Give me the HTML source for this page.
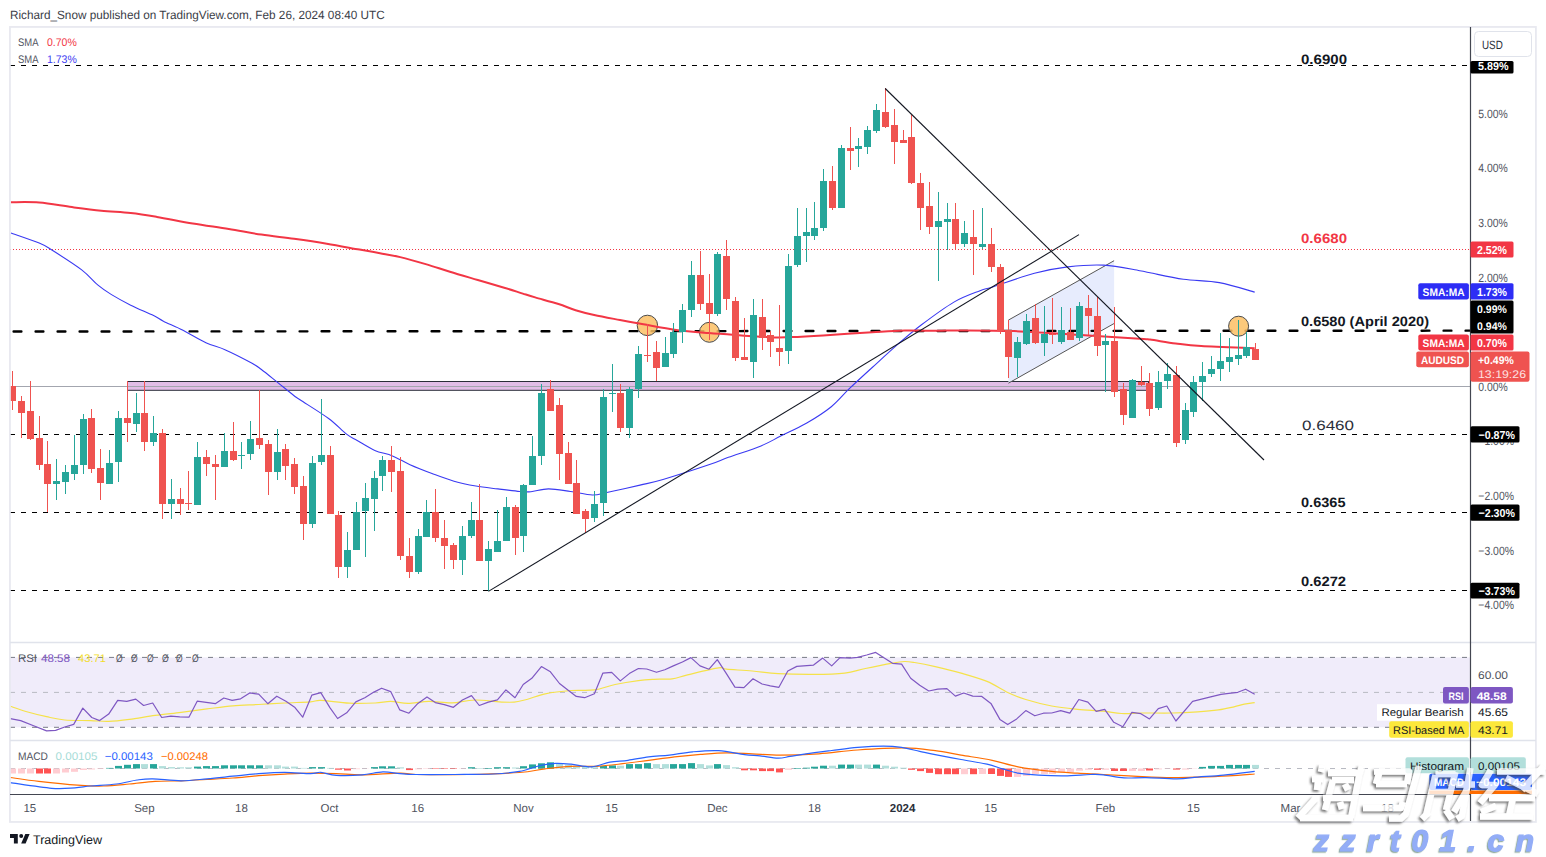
<!DOCTYPE html><html><head><meta charset="utf-8"><style>html,body{margin:0;padding:0;background:#fff;overflow:hidden}svg{display:block}text{font-family:"Liberation Sans",sans-serif;text-rendering:geometricPrecision}</style></head><body>
<svg width="1546" height="857" viewBox="0 0 1546 857">
<defs><clipPath id="cm"><rect x="10" y="27" width="1460" height="615"/></clipPath><clipPath id="cr"><rect x="10" y="643" width="1460" height="97"/></clipPath><clipPath id="cd"><rect x="10" y="741" width="1460" height="53"/></clipPath></defs>
<rect width="1546" height="857" fill="#fff"/>
<text id="tx0" transform="translate(10,19) scale(0.9791,1)" x="0" y="0" font-size="12" fill="#3a3d47" font-weight="normal" text-anchor="start">Richard_Snow published on TradingView.com, Feb 26, 2024 08:40 UTC</text>
<g clip-path="url(#cm)">
<rect x="127.5" y="381.5" width="1021" height="8.8" fill="#e1bee7" stroke="#2a2e39" stroke-width="1"/>
<polygon points="1008.4,320.1 1114.1,260.7 1114.1,323.5 1008.4,383.2" fill="#e3e9fd" fill-opacity="0.85"/>
<line x1="1008.4" y1="320.1" x2="1114.1" y2="260.7" stroke="#555" stroke-width="1"/>
<line x1="1008.4" y1="383.2" x2="1114.1" y2="323.5" stroke="#555" stroke-width="1"/>
<line x1="10" y1="386.5" x2="1470" y2="386.5" stroke="#a3a6af" stroke-width="1"/>
<line x1="10" y1="65.5" x2="1470" y2="65.5" stroke="#000" stroke-width="1.2" stroke-dasharray="5 6"/>
<line x1="10" y1="434.5" x2="1470" y2="434.5" stroke="#000" stroke-width="1.2" stroke-dasharray="5 6"/>
<line x1="10" y1="512.5" x2="1470" y2="512.5" stroke="#000" stroke-width="1.2" stroke-dasharray="5 6"/>
<line x1="10" y1="590.5" x2="1470" y2="590.5" stroke="#000" stroke-width="1.2" stroke-dasharray="5 6"/>
<line x1="10" y1="249.5" x2="1470" y2="249.5" stroke="#f23645" stroke-width="1" stroke-dasharray="1 2"/>
<line x1="13.6" y1="331.5" x2="1470" y2="330.65" stroke="#000" stroke-width="2.4" stroke-linecap="round" stroke-dasharray="7.8 14.2"/>
<circle cx="647.4" cy="325.4" r="10.2" fill="#fbbf64" fill-opacity="0.85" stroke="#4a4a4a" stroke-width="1"/>
<circle cx="709.4" cy="332.3" r="10.0" fill="#fbbf64" fill-opacity="0.85" stroke="#4a4a4a" stroke-width="1"/>
<circle cx="1238.6" cy="326.2" r="10.0" fill="#fbbf64" fill-opacity="0.85" stroke="#4a4a4a" stroke-width="1"/>
<path d="M10.80,232.90 C15.53,234.60 32.28,240.20 39.20,243.10 C46.12,246.00 45.22,245.83 52.30,250.30 C59.38,254.77 74.08,264.08 81.70,269.90 C89.32,275.72 93.10,281.12 98.00,285.20 C102.90,289.28 105.65,291.07 111.10,294.40 C116.55,297.73 123.62,301.67 130.70,305.20 C137.78,308.73 148.15,312.93 153.60,315.60 C159.05,318.27 158.50,318.75 163.40,321.20 C168.30,323.65 175.92,326.72 183.00,330.30 C190.08,333.88 198.82,339.43 205.90,342.70 C212.98,345.97 217.88,346.52 225.50,349.90 C233.12,353.28 245.62,359.73 251.60,363.00 C257.58,366.27 257.03,366.23 261.40,369.50 C265.77,372.77 272.35,378.23 277.80,382.60 C283.25,386.97 290.40,392.83 294.10,395.70 C297.80,398.57 294.25,396.00 300.00,399.80 C305.75,403.60 320.90,412.82 328.60,418.50 C336.30,424.18 341.43,430.23 346.20,433.90 C350.97,437.57 352.43,437.75 357.20,440.50 C361.97,443.25 368.93,447.83 374.80,450.40 C380.67,452.97 386.53,453.52 392.40,455.90 C398.27,458.28 403.40,461.77 410.00,464.70 C416.60,467.63 424.67,470.75 432.00,473.50 C439.33,476.25 446.68,479.12 454.00,481.20 C461.32,483.28 468.58,484.72 475.90,486.00 C483.22,487.28 490.57,487.98 497.90,488.90 C505.23,489.82 514.40,491.03 519.90,491.50 C525.40,491.97 526.13,492.13 530.90,491.70 C535.67,491.27 541.90,488.93 548.50,488.90 C555.10,488.87 563.17,490.48 570.50,491.50 C577.83,492.52 586.27,494.88 592.50,495.00 C598.73,495.12 599.98,493.85 607.90,492.20 C615.82,490.55 630.82,487.22 640.00,485.10 C649.18,482.98 651.53,482.88 663.00,479.50 C674.47,476.12 697.90,468.50 708.80,464.80 C719.70,461.10 719.70,460.45 728.40,457.30 C737.10,454.15 752.28,449.43 761.00,445.90 C769.72,442.37 773.07,439.92 780.70,436.10 C788.33,432.28 798.37,427.90 806.80,423.00 C815.23,418.10 824.22,412.42 831.30,406.70 C838.38,400.98 842.48,395.23 849.30,388.70 C856.12,382.17 864.03,374.97 872.20,367.50 C880.37,360.03 890.13,350.98 898.30,343.90 C906.47,336.82 911.93,331.97 921.20,325.00 C930.47,318.03 944.10,307.82 953.90,302.10 C963.70,296.38 973.42,293.27 980.00,290.70 C986.58,288.13 984.33,289.60 993.40,286.70 C1002.47,283.80 1022.00,276.60 1034.40,273.30 C1046.80,270.00 1056.23,268.27 1067.80,266.90 C1079.37,265.53 1091.82,264.47 1103.80,265.10 C1115.78,265.73 1132.00,269.42 1139.70,270.70 C1147.40,271.98 1142.72,271.37 1150.00,272.80 C1157.28,274.23 1171.85,277.67 1183.40,279.30 C1194.95,280.93 1207.42,280.47 1219.30,282.60 C1231.18,284.73 1248.80,290.52 1254.70,292.10" fill="none" stroke="#3a3af2" stroke-width="1.1" stroke-linejoin="round"/>
<path d="M10.80,202.20 C15.53,202.25 29.02,201.68 39.20,202.50 C49.38,203.32 61.55,205.73 71.90,207.10 C82.25,208.47 91.50,209.72 101.30,210.70 C111.10,211.68 121.43,211.97 130.70,213.00 C139.97,214.03 146.55,215.15 156.90,216.90 C167.25,218.65 180.82,221.48 192.80,223.50 C204.78,225.52 217.37,227.15 228.80,229.00 C240.23,230.85 250.52,232.97 261.40,234.60 C272.28,236.23 283.20,237.28 294.10,238.80 C305.00,240.32 315.90,241.90 326.80,243.70 C337.70,245.50 350.63,248.02 359.50,249.60 C368.37,251.18 373.22,251.95 380.00,253.20 C386.78,254.45 392.43,255.23 400.20,257.10 C407.97,258.97 418.32,261.95 426.60,264.40 C434.88,266.85 441.37,269.20 449.90,271.80 C458.43,274.40 468.75,277.35 477.80,280.00 C486.85,282.65 496.70,285.43 504.20,287.70 C511.70,289.97 517.63,291.98 522.80,293.60 C527.97,295.22 529.25,295.67 535.20,297.40 C541.15,299.13 551.77,301.87 558.50,304.00 C565.23,306.13 569.65,308.37 575.60,310.20 C581.55,312.03 586.80,313.37 594.20,315.00 C601.60,316.63 611.80,318.45 620.00,320.00 C628.20,321.55 634.05,322.65 643.40,324.30 C652.75,325.95 665.20,328.43 676.10,329.90 C687.00,331.37 697.92,332.18 708.80,333.10 C719.68,334.02 730.52,334.68 741.40,335.40 C752.28,336.12 765.92,337.12 774.10,337.40 C782.28,337.68 782.33,337.43 790.50,337.10 C798.67,336.77 809.48,336.22 823.10,335.40 C836.72,334.58 858.58,333.02 872.20,332.20 C885.82,331.38 893.92,330.73 904.80,330.50 C915.68,330.27 928.30,330.82 937.50,330.80 C946.70,330.78 947.27,330.35 960.00,330.40 C972.73,330.45 992.50,330.25 1013.90,331.10 C1035.30,331.95 1067.43,334.22 1088.40,335.50 C1109.37,336.78 1129.43,338.12 1139.70,338.80 C1149.97,339.48 1144.00,338.83 1150.00,339.60 C1156.00,340.37 1167.15,342.33 1175.70,343.40 C1184.25,344.47 1188.13,345.20 1201.30,346.00 C1214.47,346.80 1245.80,347.83 1254.70,348.20" fill="none" stroke="#f23645" stroke-width="2" stroke-linejoin="round"/>
<rect x="12" y="371" width="1" height="39" fill="#ef5350"/>
<rect x="9" y="386" width="7" height="15" fill="#ef5350"/>
<rect x="21" y="396" width="1" height="42" fill="#ef5350"/>
<rect x="18" y="401" width="7" height="12" fill="#ef5350"/>
<rect x="30" y="381" width="1" height="59" fill="#ef5350"/>
<rect x="27" y="411" width="7" height="28" fill="#ef5350"/>
<rect x="39" y="416" width="1" height="54" fill="#ef5350"/>
<rect x="36" y="438" width="7" height="27" fill="#ef5350"/>
<rect x="47" y="441" width="1" height="71" fill="#ef5350"/>
<rect x="44" y="464" width="7" height="20" fill="#ef5350"/>
<rect x="56" y="459" width="1" height="41" fill="#26a69a"/>
<rect x="53" y="481" width="7" height="3" fill="#26a69a"/>
<rect x="65" y="465" width="1" height="29" fill="#26a69a"/>
<rect x="62" y="472" width="7" height="10" fill="#26a69a"/>
<rect x="74" y="435" width="1" height="45" fill="#26a69a"/>
<rect x="71" y="465" width="7" height="9" fill="#26a69a"/>
<rect x="83" y="414" width="1" height="60" fill="#26a69a"/>
<rect x="80" y="419" width="7" height="46" fill="#26a69a"/>
<rect x="91" y="409" width="1" height="64" fill="#ef5350"/>
<rect x="88" y="418" width="7" height="51" fill="#ef5350"/>
<rect x="100" y="449" width="1" height="51" fill="#ef5350"/>
<rect x="97" y="468" width="7" height="15" fill="#ef5350"/>
<rect x="109" y="450" width="1" height="34" fill="#26a69a"/>
<rect x="106" y="463" width="7" height="21" fill="#26a69a"/>
<rect x="118" y="411" width="1" height="71" fill="#26a69a"/>
<rect x="115" y="418" width="7" height="44" fill="#26a69a"/>
<rect x="127" y="381" width="1" height="61" fill="#ef5350"/>
<rect x="124" y="418" width="7" height="5" fill="#ef5350"/>
<rect x="136" y="393" width="1" height="39" fill="#26a69a"/>
<rect x="133" y="413" width="7" height="11" fill="#26a69a"/>
<rect x="144" y="381" width="1" height="70" fill="#ef5350"/>
<rect x="141" y="413" width="7" height="29" fill="#ef5350"/>
<rect x="153" y="416" width="1" height="30" fill="#26a69a"/>
<rect x="150" y="433" width="7" height="9" fill="#26a69a"/>
<rect x="162" y="429" width="1" height="90" fill="#ef5350"/>
<rect x="159" y="433" width="7" height="71" fill="#ef5350"/>
<rect x="171" y="479" width="1" height="40" fill="#26a69a"/>
<rect x="168" y="499" width="7" height="5" fill="#26a69a"/>
<rect x="180" y="488" width="1" height="27" fill="#ef5350"/>
<rect x="177" y="499" width="7" height="5" fill="#ef5350"/>
<rect x="188" y="471" width="1" height="39" fill="#ef5350"/>
<rect x="185" y="503" width="7" height="1" fill="#ef5350"/>
<rect x="197" y="442" width="1" height="63" fill="#26a69a"/>
<rect x="194" y="457" width="7" height="48" fill="#26a69a"/>
<rect x="206" y="450" width="1" height="26" fill="#ef5350"/>
<rect x="203" y="457" width="7" height="7" fill="#ef5350"/>
<rect x="215" y="455" width="1" height="45" fill="#ef5350"/>
<rect x="212" y="464" width="7" height="3" fill="#ef5350"/>
<rect x="224" y="433" width="1" height="34" fill="#26a69a"/>
<rect x="221" y="451" width="7" height="16" fill="#26a69a"/>
<rect x="233" y="422" width="1" height="39" fill="#ef5350"/>
<rect x="230" y="451" width="7" height="9" fill="#ef5350"/>
<rect x="241" y="442" width="1" height="27" fill="#26a69a"/>
<rect x="238" y="455" width="7" height="1" fill="#26a69a"/>
<rect x="250" y="421" width="1" height="39" fill="#26a69a"/>
<rect x="247" y="439" width="7" height="15" fill="#26a69a"/>
<rect x="259" y="390" width="1" height="59" fill="#ef5350"/>
<rect x="256" y="438" width="7" height="7" fill="#ef5350"/>
<rect x="268" y="440" width="1" height="55" fill="#ef5350"/>
<rect x="265" y="444" width="7" height="28" fill="#ef5350"/>
<rect x="277" y="429" width="1" height="51" fill="#26a69a"/>
<rect x="274" y="452" width="7" height="20" fill="#26a69a"/>
<rect x="285" y="444" width="1" height="36" fill="#ef5350"/>
<rect x="282" y="449" width="7" height="17" fill="#ef5350"/>
<rect x="294" y="458" width="1" height="36" fill="#ef5350"/>
<rect x="291" y="464" width="7" height="23" fill="#ef5350"/>
<rect x="303" y="476" width="1" height="64" fill="#ef5350"/>
<rect x="300" y="486" width="7" height="38" fill="#ef5350"/>
<rect x="312" y="456" width="1" height="72" fill="#26a69a"/>
<rect x="309" y="463" width="7" height="61" fill="#26a69a"/>
<rect x="321" y="399" width="1" height="66" fill="#26a69a"/>
<rect x="318" y="455" width="7" height="7" fill="#26a69a"/>
<rect x="330" y="446" width="1" height="68" fill="#ef5350"/>
<rect x="327" y="455" width="7" height="59" fill="#ef5350"/>
<rect x="338" y="511" width="1" height="67" fill="#ef5350"/>
<rect x="335" y="515" width="7" height="52" fill="#ef5350"/>
<rect x="347" y="532" width="1" height="46" fill="#26a69a"/>
<rect x="344" y="550" width="7" height="17" fill="#26a69a"/>
<rect x="356" y="502" width="1" height="48" fill="#26a69a"/>
<rect x="353" y="512" width="7" height="38" fill="#26a69a"/>
<rect x="365" y="483" width="1" height="74" fill="#26a69a"/>
<rect x="362" y="498" width="7" height="13" fill="#26a69a"/>
<rect x="374" y="471" width="1" height="60" fill="#26a69a"/>
<rect x="371" y="478" width="7" height="21" fill="#26a69a"/>
<rect x="382" y="456" width="1" height="35" fill="#26a69a"/>
<rect x="379" y="460" width="7" height="16" fill="#26a69a"/>
<rect x="391" y="446" width="1" height="46" fill="#ef5350"/>
<rect x="388" y="460" width="7" height="12" fill="#ef5350"/>
<rect x="400" y="457" width="1" height="103" fill="#ef5350"/>
<rect x="397" y="471" width="7" height="85" fill="#ef5350"/>
<rect x="409" y="538" width="1" height="40" fill="#ef5350"/>
<rect x="406" y="556" width="7" height="16" fill="#ef5350"/>
<rect x="418" y="529" width="1" height="45" fill="#26a69a"/>
<rect x="415" y="536" width="7" height="36" fill="#26a69a"/>
<rect x="426" y="500" width="1" height="37" fill="#26a69a"/>
<rect x="423" y="512" width="7" height="25" fill="#26a69a"/>
<rect x="435" y="489" width="1" height="53" fill="#ef5350"/>
<rect x="432" y="512" width="7" height="26" fill="#ef5350"/>
<rect x="444" y="520" width="1" height="49" fill="#ef5350"/>
<rect x="441" y="538" width="7" height="8" fill="#ef5350"/>
<rect x="453" y="543" width="1" height="26" fill="#ef5350"/>
<rect x="450" y="545" width="7" height="15" fill="#ef5350"/>
<rect x="462" y="526" width="1" height="49" fill="#26a69a"/>
<rect x="459" y="536" width="7" height="24" fill="#26a69a"/>
<rect x="471" y="502" width="1" height="36" fill="#26a69a"/>
<rect x="468" y="520" width="7" height="16" fill="#26a69a"/>
<rect x="479" y="484" width="1" height="77" fill="#ef5350"/>
<rect x="476" y="520" width="7" height="41" fill="#ef5350"/>
<rect x="488" y="541" width="1" height="50" fill="#26a69a"/>
<rect x="485" y="549" width="7" height="12" fill="#26a69a"/>
<rect x="497" y="510" width="1" height="42" fill="#26a69a"/>
<rect x="494" y="541" width="7" height="11" fill="#26a69a"/>
<rect x="506" y="497" width="1" height="44" fill="#26a69a"/>
<rect x="503" y="507" width="7" height="34" fill="#26a69a"/>
<rect x="515" y="505" width="1" height="50" fill="#ef5350"/>
<rect x="512" y="507" width="7" height="31" fill="#ef5350"/>
<rect x="523" y="484" width="1" height="68" fill="#26a69a"/>
<rect x="520" y="485" width="7" height="51" fill="#26a69a"/>
<rect x="532" y="436" width="1" height="49" fill="#26a69a"/>
<rect x="529" y="456" width="7" height="29" fill="#26a69a"/>
<rect x="541" y="384" width="1" height="81" fill="#26a69a"/>
<rect x="538" y="393" width="7" height="63" fill="#26a69a"/>
<rect x="550" y="380" width="1" height="31" fill="#ef5350"/>
<rect x="547" y="389" width="7" height="22" fill="#ef5350"/>
<rect x="559" y="398" width="1" height="82" fill="#ef5350"/>
<rect x="556" y="405" width="7" height="49" fill="#ef5350"/>
<rect x="568" y="442" width="1" height="42" fill="#ef5350"/>
<rect x="565" y="453" width="7" height="31" fill="#ef5350"/>
<rect x="576" y="460" width="1" height="54" fill="#ef5350"/>
<rect x="573" y="483" width="7" height="31" fill="#ef5350"/>
<rect x="585" y="509" width="1" height="24" fill="#ef5350"/>
<rect x="582" y="511" width="7" height="8" fill="#ef5350"/>
<rect x="594" y="491" width="1" height="31" fill="#26a69a"/>
<rect x="591" y="504" width="7" height="14" fill="#26a69a"/>
<rect x="603" y="389" width="1" height="127" fill="#26a69a"/>
<rect x="600" y="397" width="7" height="106" fill="#26a69a"/>
<rect x="612" y="364" width="1" height="48" fill="#26a69a"/>
<rect x="609" y="393" width="7" height="1" fill="#26a69a"/>
<rect x="620" y="384" width="1" height="48" fill="#ef5350"/>
<rect x="617" y="393" width="7" height="35" fill="#ef5350"/>
<rect x="629" y="387" width="1" height="51" fill="#26a69a"/>
<rect x="626" y="389" width="7" height="39" fill="#26a69a"/>
<rect x="638" y="346" width="1" height="52" fill="#26a69a"/>
<rect x="635" y="354" width="7" height="35" fill="#26a69a"/>
<rect x="647" y="324" width="1" height="38" fill="#ef5350"/>
<rect x="644" y="355" width="7" height="1" fill="#ef5350"/>
<rect x="656" y="341" width="1" height="40" fill="#ef5350"/>
<rect x="653" y="352" width="7" height="16" fill="#ef5350"/>
<rect x="665" y="337" width="1" height="30" fill="#26a69a"/>
<rect x="662" y="353" width="7" height="14" fill="#26a69a"/>
<rect x="673" y="323" width="1" height="35" fill="#26a69a"/>
<rect x="670" y="332" width="7" height="22" fill="#26a69a"/>
<rect x="682" y="304" width="1" height="39" fill="#26a69a"/>
<rect x="679" y="310" width="7" height="22" fill="#26a69a"/>
<rect x="691" y="261" width="1" height="56" fill="#26a69a"/>
<rect x="688" y="275" width="7" height="35" fill="#26a69a"/>
<rect x="700" y="251" width="1" height="59" fill="#ef5350"/>
<rect x="697" y="275" width="7" height="29" fill="#ef5350"/>
<rect x="709" y="274" width="1" height="66" fill="#ef5350"/>
<rect x="706" y="303" width="7" height="11" fill="#ef5350"/>
<rect x="717" y="252" width="1" height="64" fill="#26a69a"/>
<rect x="714" y="254" width="7" height="60" fill="#26a69a"/>
<rect x="726" y="240" width="1" height="70" fill="#ef5350"/>
<rect x="723" y="256" width="7" height="43" fill="#ef5350"/>
<rect x="735" y="297" width="1" height="64" fill="#ef5350"/>
<rect x="732" y="301" width="7" height="57" fill="#ef5350"/>
<rect x="744" y="318" width="1" height="42" fill="#ef5350"/>
<rect x="741" y="357" width="7" height="3" fill="#ef5350"/>
<rect x="753" y="299" width="1" height="79" fill="#26a69a"/>
<rect x="750" y="315" width="7" height="47" fill="#26a69a"/>
<rect x="762" y="299" width="1" height="51" fill="#ef5350"/>
<rect x="759" y="317" width="7" height="21" fill="#ef5350"/>
<rect x="770" y="331" width="1" height="26" fill="#ef5350"/>
<rect x="767" y="335" width="7" height="7" fill="#ef5350"/>
<rect x="779" y="305" width="1" height="61" fill="#ef5350"/>
<rect x="776" y="348" width="7" height="4" fill="#ef5350"/>
<rect x="788" y="254" width="1" height="110" fill="#26a69a"/>
<rect x="785" y="266" width="7" height="85" fill="#26a69a"/>
<rect x="797" y="208" width="1" height="59" fill="#26a69a"/>
<rect x="794" y="236" width="7" height="29" fill="#26a69a"/>
<rect x="806" y="208" width="1" height="54" fill="#26a69a"/>
<rect x="803" y="232" width="7" height="4" fill="#26a69a"/>
<rect x="814" y="202" width="1" height="38" fill="#26a69a"/>
<rect x="811" y="228" width="7" height="8" fill="#26a69a"/>
<rect x="823" y="169" width="1" height="62" fill="#26a69a"/>
<rect x="820" y="181" width="7" height="47" fill="#26a69a"/>
<rect x="832" y="166" width="1" height="44" fill="#ef5350"/>
<rect x="829" y="181" width="7" height="27" fill="#ef5350"/>
<rect x="841" y="145" width="1" height="63" fill="#26a69a"/>
<rect x="838" y="148" width="7" height="60" fill="#26a69a"/>
<rect x="850" y="127" width="1" height="43" fill="#ef5350"/>
<rect x="847" y="148" width="7" height="3" fill="#ef5350"/>
<rect x="858" y="138" width="1" height="29" fill="#26a69a"/>
<rect x="855" y="146" width="7" height="3" fill="#26a69a"/>
<rect x="867" y="126" width="1" height="28" fill="#26a69a"/>
<rect x="864" y="130" width="7" height="17" fill="#26a69a"/>
<rect x="876" y="104" width="1" height="29" fill="#26a69a"/>
<rect x="873" y="110" width="7" height="21" fill="#26a69a"/>
<rect x="885" y="88" width="1" height="40" fill="#ef5350"/>
<rect x="882" y="112" width="7" height="15" fill="#ef5350"/>
<rect x="894" y="109" width="1" height="55" fill="#ef5350"/>
<rect x="891" y="125" width="7" height="17" fill="#ef5350"/>
<rect x="903" y="130" width="1" height="13" fill="#ef5350"/>
<rect x="900" y="140" width="7" height="3" fill="#ef5350"/>
<rect x="911" y="115" width="1" height="69" fill="#ef5350"/>
<rect x="908" y="137" width="7" height="46" fill="#ef5350"/>
<rect x="920" y="173" width="1" height="57" fill="#ef5350"/>
<rect x="917" y="183" width="7" height="25" fill="#ef5350"/>
<rect x="929" y="182" width="1" height="52" fill="#ef5350"/>
<rect x="926" y="206" width="7" height="21" fill="#ef5350"/>
<rect x="938" y="192" width="1" height="89" fill="#26a69a"/>
<rect x="935" y="221" width="7" height="6" fill="#26a69a"/>
<rect x="947" y="203" width="1" height="47" fill="#26a69a"/>
<rect x="944" y="219" width="7" height="3" fill="#26a69a"/>
<rect x="955" y="203" width="1" height="47" fill="#ef5350"/>
<rect x="952" y="219" width="7" height="25" fill="#ef5350"/>
<rect x="964" y="221" width="1" height="26" fill="#26a69a"/>
<rect x="961" y="233" width="7" height="11" fill="#26a69a"/>
<rect x="973" y="210" width="1" height="65" fill="#ef5350"/>
<rect x="970" y="237" width="7" height="7" fill="#ef5350"/>
<rect x="982" y="208" width="1" height="41" fill="#26a69a"/>
<rect x="979" y="244" width="7" height="3" fill="#26a69a"/>
<rect x="991" y="228" width="1" height="44" fill="#ef5350"/>
<rect x="988" y="244" width="7" height="23" fill="#ef5350"/>
<rect x="1000" y="264" width="1" height="70" fill="#ef5350"/>
<rect x="997" y="267" width="7" height="64" fill="#ef5350"/>
<rect x="1008" y="320" width="1" height="58" fill="#ef5350"/>
<rect x="1005" y="330" width="7" height="27" fill="#ef5350"/>
<rect x="1017" y="337" width="1" height="40" fill="#26a69a"/>
<rect x="1014" y="342" width="7" height="16" fill="#26a69a"/>
<rect x="1026" y="314" width="1" height="31" fill="#26a69a"/>
<rect x="1023" y="321" width="7" height="23" fill="#26a69a"/>
<rect x="1035" y="304" width="1" height="40" fill="#ef5350"/>
<rect x="1032" y="318" width="7" height="25" fill="#ef5350"/>
<rect x="1044" y="306" width="1" height="50" fill="#26a69a"/>
<rect x="1041" y="334" width="7" height="9" fill="#26a69a"/>
<rect x="1052" y="298" width="1" height="46" fill="#ef5350"/>
<rect x="1049" y="334" width="7" height="1" fill="#ef5350"/>
<rect x="1061" y="307" width="1" height="37" fill="#26a69a"/>
<rect x="1058" y="330" width="7" height="12" fill="#26a69a"/>
<rect x="1070" y="308" width="1" height="32" fill="#ef5350"/>
<rect x="1067" y="332" width="7" height="8" fill="#ef5350"/>
<rect x="1079" y="302" width="1" height="39" fill="#26a69a"/>
<rect x="1076" y="306" width="7" height="32" fill="#26a69a"/>
<rect x="1088" y="295" width="1" height="40" fill="#ef5350"/>
<rect x="1085" y="308" width="7" height="8" fill="#ef5350"/>
<rect x="1097" y="297" width="1" height="59" fill="#ef5350"/>
<rect x="1094" y="316" width="7" height="30" fill="#ef5350"/>
<rect x="1105" y="334" width="1" height="58" fill="#26a69a"/>
<rect x="1102" y="341" width="7" height="4" fill="#26a69a"/>
<rect x="1114" y="307" width="1" height="90" fill="#ef5350"/>
<rect x="1111" y="341" width="7" height="51" fill="#ef5350"/>
<rect x="1123" y="383" width="1" height="42" fill="#ef5350"/>
<rect x="1120" y="389" width="7" height="26" fill="#ef5350"/>
<rect x="1132" y="379" width="1" height="39" fill="#26a69a"/>
<rect x="1129" y="380" width="7" height="38" fill="#26a69a"/>
<rect x="1141" y="366" width="1" height="20" fill="#ef5350"/>
<rect x="1138" y="382" width="7" height="3" fill="#ef5350"/>
<rect x="1149" y="373" width="1" height="43" fill="#ef5350"/>
<rect x="1146" y="383" width="7" height="26" fill="#ef5350"/>
<rect x="1158" y="371" width="1" height="39" fill="#26a69a"/>
<rect x="1155" y="382" width="7" height="26" fill="#26a69a"/>
<rect x="1167" y="363" width="1" height="26" fill="#26a69a"/>
<rect x="1164" y="374" width="7" height="7" fill="#26a69a"/>
<rect x="1176" y="366" width="1" height="81" fill="#ef5350"/>
<rect x="1173" y="375" width="7" height="68" fill="#ef5350"/>
<rect x="1185" y="403" width="1" height="41" fill="#26a69a"/>
<rect x="1182" y="410" width="7" height="30" fill="#26a69a"/>
<rect x="1193" y="376" width="1" height="41" fill="#26a69a"/>
<rect x="1190" y="382" width="7" height="30" fill="#26a69a"/>
<rect x="1202" y="362" width="1" height="39" fill="#26a69a"/>
<rect x="1199" y="376" width="7" height="6" fill="#26a69a"/>
<rect x="1211" y="356" width="1" height="21" fill="#26a69a"/>
<rect x="1208" y="369" width="7" height="5" fill="#26a69a"/>
<rect x="1220" y="333" width="1" height="48" fill="#26a69a"/>
<rect x="1217" y="361" width="7" height="8" fill="#26a69a"/>
<rect x="1229" y="338" width="1" height="34" fill="#26a69a"/>
<rect x="1226" y="357" width="7" height="5" fill="#26a69a"/>
<rect x="1238" y="320" width="1" height="45" fill="#26a69a"/>
<rect x="1235" y="355" width="7" height="4" fill="#26a69a"/>
<rect x="1246" y="332" width="1" height="26" fill="#26a69a"/>
<rect x="1243" y="347" width="7" height="9" fill="#26a69a"/>
<rect x="1255" y="343" width="1" height="17" fill="#ef5350"/>
<rect x="1252" y="349" width="7" height="11" fill="#ef5350"/>
<line x1="488.4" y1="591.4" x2="1079" y2="234.6" stroke="#131722" stroke-width="1.1"/>
<line x1="885.2" y1="88.5" x2="1264" y2="460" stroke="#131722" stroke-width="1.1"/>
</g>
<text id="tx1" transform="translate(1301,64) scale(1.1139,1)" x="0" y="0" font-size="13.5" fill="#131722" font-weight="bold" text-anchor="start">0.6900</text>
<text id="tx2" transform="translate(1301,243) scale(1.1139,1)" x="0" y="0" font-size="13.5" fill="#f23645" font-weight="bold" text-anchor="start">0.6680</text>
<text id="tx3" transform="translate(1301,326) scale(1.0794,1)" x="0" y="0" font-size="13.5" fill="#131722" font-weight="bold" text-anchor="start">0.6580 (April 2020)</text>
<text id="tx4" transform="translate(1302,430) scale(1.2592,1)" x="0" y="0" font-size="13.5" fill="#2a2e39" font-weight="normal" text-anchor="start">0.6460</text>
<text id="tx5" transform="translate(1301,507) scale(1.0770,1)" x="0" y="0" font-size="13.5" fill="#131722" font-weight="bold" text-anchor="start">0.6365</text>
<text id="tx6" transform="translate(1301,586) scale(1.0897,1)" x="0" y="0" font-size="13.5" fill="#131722" font-weight="bold" text-anchor="start">0.6272</text>
<text id="tx7" transform="translate(18,45.5) scale(0.8572,1)" x="0" y="0" font-size="11" fill="#50535e" font-weight="normal" text-anchor="start">SMA</text>
<text id="tx8" transform="translate(47,45.5) scale(0.9551,1)" x="0" y="0" font-size="11" fill="#f23645" font-weight="normal" text-anchor="start">0.70%</text>
<text id="tx9" transform="translate(18,62.5) scale(0.8572,1)" x="0" y="0" font-size="11" fill="#50535e" font-weight="normal" text-anchor="start">SMA</text>
<text id="tx10" transform="translate(47,62.5) scale(0.9551,1)" x="0" y="0" font-size="11" fill="#3a3af2" font-weight="normal" text-anchor="start">1.73%</text>
<g clip-path="url(#cr)">
<rect x="10" y="657.4" width="1460" height="69.9" fill="#f0ecfa"/>
<line x1="10" y1="657.4" x2="1470" y2="657.4" stroke="#787b86" stroke-width="1" stroke-dasharray="5 6"/>
<line x1="10" y1="692.4" x2="1470" y2="692.4" stroke="#b8bac2" stroke-width="1" stroke-dasharray="5 6"/>
<line x1="10" y1="727.3" x2="1470" y2="727.3" stroke="#787b86" stroke-width="1" stroke-dasharray="5 6"/>
<path d="M10.30,706.30 C12.90,707.17 19.85,709.77 25.90,711.50 C31.95,713.23 40.13,715.28 46.60,716.70 C53.07,718.12 57.37,719.35 64.70,720.00 C72.03,720.65 83.27,720.38 90.60,720.60 C97.93,720.82 102.23,721.52 108.70,721.30 C115.17,721.08 121.65,720.28 129.40,719.30 C137.15,718.32 146.58,716.57 155.20,715.40 C163.82,714.23 172.47,713.38 181.10,712.30 C189.73,711.22 198.37,709.98 207.00,708.90 C215.63,707.82 224.28,706.53 232.90,705.80 C241.52,705.07 250.08,704.97 258.70,704.50 C267.32,704.03 275.97,703.43 284.60,703.00 C293.23,702.57 304.47,702.33 310.50,701.90 C316.53,701.47 314.33,700.18 320.80,700.40 C327.27,700.62 340.23,702.77 349.30,703.20 C358.37,703.63 368.30,703.30 375.20,703.00 C382.10,702.70 385.22,701.33 390.70,701.40 C396.18,701.47 401.75,703.42 408.10,703.40 C414.45,703.38 421.47,701.38 428.80,701.30 C436.13,701.22 444.33,703.12 452.10,702.90 C459.87,702.68 465.05,700.13 475.40,700.00 C485.75,699.87 502.57,703.13 514.20,702.10 C525.83,701.07 535.72,695.73 545.20,693.80 C554.68,691.87 562.90,691.15 571.10,690.50 C579.30,689.85 587.07,690.90 594.40,689.90 C601.73,688.90 607.77,686.05 615.10,684.50 C622.43,682.95 631.93,681.47 638.40,680.60 C644.87,679.73 648.30,679.60 653.90,679.30 C659.50,679.00 666.40,679.53 672.00,678.80 C677.60,678.07 679.73,676.72 687.50,674.90 C695.27,673.08 712.12,668.85 718.60,667.90 C725.08,666.95 720.80,668.68 726.40,669.20 C732.00,669.72 743.58,670.27 752.20,671.00 C760.82,671.73 767.87,673.03 778.10,673.60 C788.33,674.17 802.50,674.48 813.60,674.40 C824.70,674.32 836.07,674.08 844.70,673.10 C853.33,672.12 857.63,670.13 865.40,668.50 C873.17,666.87 884.83,664.47 891.30,663.30 C897.77,662.13 900.33,661.63 904.20,661.50 C908.07,661.37 909.33,661.65 914.50,662.50 C919.67,663.35 927.43,664.83 935.20,666.60 C942.97,668.37 952.47,670.63 961.10,673.10 C969.73,675.57 979.23,678.17 987.00,681.40 C994.77,684.63 1001.23,689.48 1007.70,692.50 C1014.17,695.52 1018.47,697.25 1025.80,699.50 C1033.13,701.75 1043.08,704.37 1051.70,706.00 C1060.32,707.63 1068.88,708.43 1077.50,709.30 C1086.12,710.17 1096.07,710.50 1103.40,711.20 C1110.73,711.90 1115.03,713.20 1121.50,713.50 C1127.97,713.80 1133.80,713.08 1142.20,713.00 C1150.60,712.92 1162.65,713.18 1171.90,713.00 C1181.15,712.82 1189.95,712.42 1197.70,711.90 C1205.45,711.38 1212.35,710.75 1218.40,709.90 C1224.45,709.05 1229.68,707.75 1234.00,706.80 C1238.32,705.85 1240.85,704.90 1244.30,704.20 C1247.75,703.50 1252.97,702.87 1254.70,702.60" fill="none" stroke="#f5e24a" stroke-width="1.2" stroke-linejoin="round"/>
<polyline points="10.3,718.7 20.7,720.6 33.6,725.7 46.6,730.9 55.6,730.4 64.7,727.0 73.7,724.4 82.8,708.1 91.8,717.5 99.6,720.6 108.7,714.1 117.7,700.4 126.8,701.4 135.8,699.1 143.6,705.5 152.7,703.0 161.7,717.5 170.8,716.2 179.8,716.9 188.9,717.2 197.2,701.2 206.2,702.4 215.3,703.7 223.8,698.0 232.1,700.4 240.6,698.8 249.7,692.9 258.7,694.2 267.8,703.7 276.8,696.2 285.9,701.2 295.0,707.6 302.7,717.2 311.8,695.2 320.8,692.6 329.9,707.6 337.6,718.5 346.7,712.8 355.8,701.9 364.8,697.8 373.9,692.1 381.6,688.2 390.7,691.6 399.8,709.9 408.9,713.2 417.9,703.4 427.0,696.9 435.3,702.6 444.3,704.7 453.4,707.3 462.4,700.0 471.5,695.6 479.3,705.5 488.3,702.1 497.4,699.8 505.9,689.9 515.0,697.7 523.2,684.5 531.8,678.3 541.4,666.6 550.4,671.8 559.5,683.5 568.5,690.5 576.3,696.4 584.6,697.7 594.4,693.8 602.9,673.1 611.7,672.3 620.3,680.9 629.3,673.6 638.4,668.5 646.7,669.0 656.5,672.3 664.8,669.8 673.3,665.9 682.4,662.0 690.9,657.6 700.0,665.9 709.0,669.2 717.3,659.7 726.4,673.6 734.9,687.1 743.9,687.6 753.0,678.8 762.1,684.0 770.3,685.8 778.9,687.3 787.8,671.0 796.8,666.4 813.6,665.1 822.7,658.1 831.7,665.9 840.0,657.6 849.9,658.1 857.6,657.3 866.7,655.0 875.7,652.4 883.5,657.6 892.5,663.3 901.6,664.1 910.7,678.3 919.7,685.3 928.8,691.0 937.8,689.2 946.9,688.6 955.4,696.1 963.7,693.0 972.8,696.1 981.8,696.4 990.9,703.4 999.9,719.4 1007.7,724.6 1016.7,718.9 1025.8,710.6 1034.8,715.8 1043.4,713.2 1051.7,713.0 1060.7,710.6 1069.8,713.2 1078.8,699.5 1087.9,702.1 1096.2,711.4 1104.7,709.3 1113.8,722.3 1122.8,726.7 1131.9,712.4 1140.9,713.7 1149.5,718.9 1158.3,708.6 1166.8,706.0 1175.9,721.0 1192.6,701.3 1201.6,699.2 1210.7,696.9 1221.0,694.3 1228.8,693.3 1237.8,692.3 1245.6,689.2 1254.7,694.3" fill="none" stroke="#7e57c2" stroke-width="1.2" stroke-linejoin="round"/>
</g>
<text id="tx11" transform="translate(18,662) scale(1.0358,1)" x="0" y="0" font-size="11" fill="#50535e" font-weight="normal" text-anchor="start">RSI</text>
<text id="tx12" transform="translate(41,662) scale(1.0533,1)" x="0" y="0" font-size="11" fill="#7e57c2" font-weight="normal" text-anchor="start">48.58</text>
<text id="tx13" transform="translate(78,662) scale(1.0170,1)" x="0" y="0" font-size="11" fill="#f2dc2a" font-weight="normal" text-anchor="start">43.71</text>
<text id="tx14" transform="translate(116,662) scale(0.7778,1)" x="0" y="0" font-size="11" fill="#50535e" font-weight="normal" text-anchor="start">Ø</text>
<text id="tx15" transform="translate(131,662) scale(0.7778,1)" x="0" y="0" font-size="11" fill="#50535e" font-weight="normal" text-anchor="start">Ø</text>
<text id="tx16" transform="translate(147,662) scale(0.7778,1)" x="0" y="0" font-size="11" fill="#50535e" font-weight="normal" text-anchor="start">Ø</text>
<text id="tx17" transform="translate(162,662) scale(0.7778,1)" x="0" y="0" font-size="11" fill="#50535e" font-weight="normal" text-anchor="start">Ø</text>
<text id="tx18" transform="translate(176,662) scale(0.7778,1)" x="0" y="0" font-size="11" fill="#50535e" font-weight="normal" text-anchor="start">Ø</text>
<text id="tx19" transform="translate(192,662) scale(0.7778,1)" x="0" y="0" font-size="11" fill="#50535e" font-weight="normal" text-anchor="start">Ø</text>
<g clip-path="url(#cd)">
<line x1="10" y1="768.5" x2="1470" y2="768.5" stroke="#b8bac2" stroke-width="1" stroke-dasharray="5 6"/>
<rect x="9" y="768.5" width="7" height="5.0" fill="#ffcdd2"/>
<rect x="18" y="768.5" width="7" height="5.0" fill="#ffcdd2"/>
<rect x="27" y="768.5" width="7" height="5.0" fill="#ffcdd2"/>
<rect x="36" y="768.5" width="7" height="5.0" fill="#ff5252"/>
<rect x="44" y="768.5" width="7" height="5.0" fill="#ff5252"/>
<rect x="53" y="768.5" width="7" height="5.0" fill="#ffcdd2"/>
<rect x="62" y="768.5" width="7" height="4.0" fill="#ffcdd2"/>
<rect x="71" y="768.5" width="7" height="3.3" fill="#ffcdd2"/>
<rect x="80" y="768.5" width="7" height="1.5" fill="#ffcdd2"/>
<rect x="88" y="768.5" width="7" height="1.0" fill="#ffcdd2"/>
<rect x="97" y="768.5" width="7" height="0.5" fill="#ffcdd2"/>
<rect x="106" y="767.9" width="7" height="0.6" fill="#26a69a"/>
<rect x="115" y="765.9" width="7" height="2.6" fill="#26a69a"/>
<rect x="124" y="764.8" width="7" height="3.7" fill="#26a69a"/>
<rect x="133" y="764.1" width="7" height="4.4" fill="#26a69a"/>
<rect x="141" y="764.1" width="7" height="4.4" fill="#b2dfdb"/>
<rect x="150" y="764.1" width="7" height="4.4" fill="#26a69a"/>
<rect x="159" y="766.1" width="7" height="2.4" fill="#b2dfdb"/>
<rect x="168" y="767.1" width="7" height="1.4" fill="#b2dfdb"/>
<rect x="177" y="767.3" width="7" height="1.2" fill="#b2dfdb"/>
<rect x="185" y="767.3" width="7" height="1.2" fill="#b2dfdb"/>
<rect x="194" y="766.6" width="7" height="1.9" fill="#26a69a"/>
<rect x="203" y="766.1" width="7" height="2.4" fill="#26a69a"/>
<rect x="212" y="766.1" width="7" height="2.4" fill="#26a69a"/>
<rect x="221" y="765.3" width="7" height="3.2" fill="#26a69a"/>
<rect x="230" y="765.3" width="7" height="3.2" fill="#26a69a"/>
<rect x="238" y="765.3" width="7" height="3.2" fill="#26a69a"/>
<rect x="247" y="765.3" width="7" height="3.2" fill="#26a69a"/>
<rect x="256" y="765.3" width="7" height="3.2" fill="#26a69a"/>
<rect x="265" y="765.3" width="7" height="3.2" fill="#b2dfdb"/>
<rect x="274" y="765.3" width="7" height="3.2" fill="#b2dfdb"/>
<rect x="282" y="766.6" width="7" height="1.9" fill="#b2dfdb"/>
<rect x="291" y="766.6" width="7" height="1.9" fill="#b2dfdb"/>
<rect x="300" y="767.9" width="7" height="0.6" fill="#b2dfdb"/>
<rect x="309" y="767.1" width="7" height="1.4" fill="#26a69a"/>
<rect x="318" y="767.1" width="7" height="1.4" fill="#26a69a"/>
<rect x="327" y="767.9" width="7" height="0.6" fill="#b2dfdb"/>
<rect x="335" y="768.5" width="7" height="1.2" fill="#ff5252"/>
<rect x="344" y="768.5" width="7" height="2.0" fill="#ff5252"/>
<rect x="353" y="768.5" width="7" height="0.7" fill="#ffcdd2"/>
<rect x="362" y="768.5" width="7" height="0.2" fill="#ffcdd2"/>
<rect x="371" y="767.1" width="7" height="1.4" fill="#26a69a"/>
<rect x="379" y="766.3" width="7" height="2.2" fill="#26a69a"/>
<rect x="388" y="766.3" width="7" height="2.2" fill="#26a69a"/>
<rect x="397" y="767.3" width="7" height="1.2" fill="#b2dfdb"/>
<rect x="406" y="768.5" width="7" height="1.6" fill="#ff5252"/>
<rect x="415" y="768.5" width="7" height="0.8" fill="#ffcdd2"/>
<rect x="423" y="768.5" width="7" height="0.5" fill="#ffcdd2"/>
<rect x="432" y="768.5" width="7" height="0.5" fill="#ff5252"/>
<rect x="441" y="768.5" width="7" height="0.5" fill="#ff5252"/>
<rect x="450" y="768.5" width="7" height="0.5" fill="#ff5252"/>
<rect x="459" y="768.5" width="7" height="0.3" fill="#ffcdd2"/>
<rect x="468" y="767.2" width="7" height="1.3" fill="#26a69a"/>
<rect x="476" y="768.0" width="7" height="0.6" fill="#b2dfdb"/>
<rect x="485" y="768.2" width="7" height="0.6" fill="#26a69a"/>
<rect x="494" y="767.2" width="7" height="1.3" fill="#26a69a"/>
<rect x="503" y="767.2" width="7" height="1.3" fill="#26a69a"/>
<rect x="512" y="767.5" width="7" height="1.0" fill="#b2dfdb"/>
<rect x="520" y="766.2" width="7" height="2.3" fill="#26a69a"/>
<rect x="529" y="764.4" width="7" height="4.1" fill="#26a69a"/>
<rect x="538" y="763.3" width="7" height="5.2" fill="#26a69a"/>
<rect x="547" y="762.3" width="7" height="6.2" fill="#26a69a"/>
<rect x="556" y="763.6" width="7" height="4.9" fill="#b2dfdb"/>
<rect x="565" y="764.6" width="7" height="3.9" fill="#b2dfdb"/>
<rect x="573" y="766.2" width="7" height="2.3" fill="#b2dfdb"/>
<rect x="582" y="766.7" width="7" height="1.8" fill="#b2dfdb"/>
<rect x="591" y="767.2" width="7" height="1.3" fill="#b2dfdb"/>
<rect x="600" y="765.9" width="7" height="2.6" fill="#26a69a"/>
<rect x="609" y="765.4" width="7" height="3.1" fill="#26a69a"/>
<rect x="617" y="765.7" width="7" height="2.8" fill="#b2dfdb"/>
<rect x="626" y="764.1" width="7" height="4.4" fill="#26a69a"/>
<rect x="635" y="764.1" width="7" height="4.4" fill="#26a69a"/>
<rect x="644" y="763.1" width="7" height="5.4" fill="#26a69a"/>
<rect x="653" y="764.1" width="7" height="4.4" fill="#b2dfdb"/>
<rect x="662" y="764.1" width="7" height="4.4" fill="#b2dfdb"/>
<rect x="670" y="764.1" width="7" height="4.4" fill="#26a69a"/>
<rect x="679" y="764.1" width="7" height="4.4" fill="#26a69a"/>
<rect x="688" y="763.1" width="7" height="5.4" fill="#26a69a"/>
<rect x="697" y="764.1" width="7" height="4.4" fill="#b2dfdb"/>
<rect x="706" y="765.4" width="7" height="3.1" fill="#b2dfdb"/>
<rect x="714" y="764.1" width="7" height="4.4" fill="#26a69a"/>
<rect x="723" y="765.1" width="7" height="3.4" fill="#b2dfdb"/>
<rect x="732" y="767.2" width="7" height="1.3" fill="#b2dfdb"/>
<rect x="741" y="768.5" width="7" height="1.8" fill="#ff5252"/>
<rect x="750" y="768.5" width="7" height="1.8" fill="#ff5252"/>
<rect x="759" y="768.5" width="7" height="2.6" fill="#ff5252"/>
<rect x="767" y="768.5" width="7" height="2.6" fill="#ff5252"/>
<rect x="776" y="768.5" width="7" height="3.9" fill="#ff5252"/>
<rect x="785" y="768.5" width="7" height="1.3" fill="#ffcdd2"/>
<rect x="794" y="768.2" width="7" height="0.6" fill="#26a69a"/>
<rect x="803" y="767.7" width="7" height="0.8" fill="#26a69a"/>
<rect x="811" y="766.7" width="7" height="1.8" fill="#26a69a"/>
<rect x="820" y="765.7" width="7" height="2.8" fill="#26a69a"/>
<rect x="829" y="765.7" width="7" height="2.8" fill="#b2dfdb"/>
<rect x="838" y="764.6" width="7" height="3.9" fill="#26a69a"/>
<rect x="847" y="764.6" width="7" height="3.9" fill="#26a69a"/>
<rect x="855" y="764.6" width="7" height="3.9" fill="#b2dfdb"/>
<rect x="864" y="764.6" width="7" height="3.9" fill="#b2dfdb"/>
<rect x="873" y="764.6" width="7" height="3.9" fill="#26a69a"/>
<rect x="882" y="765.7" width="7" height="2.8" fill="#b2dfdb"/>
<rect x="891" y="766.7" width="7" height="1.8" fill="#b2dfdb"/>
<rect x="900" y="767.7" width="7" height="0.8" fill="#b2dfdb"/>
<rect x="908" y="768.5" width="7" height="1.3" fill="#ff5252"/>
<rect x="917" y="768.5" width="7" height="2.6" fill="#ff5252"/>
<rect x="926" y="768.5" width="7" height="4.4" fill="#ff5252"/>
<rect x="935" y="768.5" width="7" height="5.7" fill="#ff5252"/>
<rect x="944" y="768.5" width="7" height="5.7" fill="#ff5252"/>
<rect x="952" y="768.5" width="7" height="5.7" fill="#ff5252"/>
<rect x="961" y="768.5" width="7" height="5.7" fill="#ffcdd2"/>
<rect x="970" y="768.5" width="7" height="5.7" fill="#ff5252"/>
<rect x="979" y="768.5" width="7" height="5.5" fill="#ffcdd2"/>
<rect x="988" y="768.5" width="7" height="5.5" fill="#ff5252"/>
<rect x="997" y="768.5" width="7" height="7.4" fill="#ff5252"/>
<rect x="1005" y="768.5" width="7" height="8.4" fill="#ff5252"/>
<rect x="1014" y="768.5" width="7" height="8.4" fill="#ffcdd2"/>
<rect x="1023" y="768.5" width="7" height="7.4" fill="#ffcdd2"/>
<rect x="1032" y="768.5" width="7" height="5.5" fill="#ffcdd2"/>
<rect x="1041" y="768.5" width="7" height="5.5" fill="#ffcdd2"/>
<rect x="1049" y="768.5" width="7" height="5.5" fill="#ffcdd2"/>
<rect x="1058" y="768.5" width="7" height="3.5" fill="#ffcdd2"/>
<rect x="1067" y="768.5" width="7" height="3.5" fill="#ffcdd2"/>
<rect x="1076" y="768.5" width="7" height="2.2" fill="#ffcdd2"/>
<rect x="1085" y="768.5" width="7" height="1.3" fill="#ffcdd2"/>
<rect x="1094" y="768.5" width="7" height="1.3" fill="#ff5252"/>
<rect x="1102" y="768.5" width="7" height="1.3" fill="#ffcdd2"/>
<rect x="1111" y="768.5" width="7" height="2.5" fill="#ff5252"/>
<rect x="1120" y="768.5" width="7" height="2.5" fill="#ff5252"/>
<rect x="1129" y="768.5" width="7" height="2.5" fill="#ffcdd2"/>
<rect x="1138" y="768.5" width="7" height="2.5" fill="#ffcdd2"/>
<rect x="1146" y="768.5" width="7" height="2.0" fill="#ff5252"/>
<rect x="1155" y="768.5" width="7" height="0.9" fill="#ffcdd2"/>
<rect x="1164" y="768.5" width="7" height="0.3" fill="#ffcdd2"/>
<rect x="1173" y="768.5" width="7" height="1.1" fill="#ff5252"/>
<rect x="1182" y="768.5" width="7" height="1.1" fill="#ffcdd2"/>
<rect x="1190" y="768.5" width="7" height="0.3" fill="#ffcdd2"/>
<rect x="1199" y="766.9" width="7" height="1.6" fill="#26a69a"/>
<rect x="1208" y="765.9" width="7" height="2.6" fill="#26a69a"/>
<rect x="1217" y="765.9" width="7" height="2.6" fill="#26a69a"/>
<rect x="1226" y="764.9" width="7" height="3.6" fill="#26a69a"/>
<rect x="1235" y="764.9" width="7" height="3.6" fill="#26a69a"/>
<rect x="1243" y="764.9" width="7" height="3.6" fill="#26a69a"/>
<rect x="1252" y="764.9" width="7" height="3.6" fill="#b2dfdb"/>
<path d="M10.30,777.50 C15.05,778.15 27.58,780.12 38.80,781.40 C50.02,782.68 66.82,784.43 77.60,785.20 C88.38,785.97 94.87,786.20 103.50,786.00 C112.13,785.80 120.78,784.77 129.40,784.00 C138.02,783.23 146.58,781.93 155.20,781.40 C163.82,780.87 172.47,781.12 181.10,780.80 C189.73,780.48 198.37,779.97 207.00,779.50 C215.63,779.03 224.28,778.63 232.90,778.00 C241.52,777.37 250.08,776.35 258.70,775.70 C267.32,775.05 275.97,774.53 284.60,774.10 C293.23,773.67 301.87,773.18 310.50,773.10 C319.13,773.02 327.78,773.30 336.40,773.60 C345.02,773.90 351.60,774.98 362.20,774.90 C372.80,774.82 391.05,773.17 400.00,773.10 C408.95,773.03 404.63,774.27 415.90,774.50 C427.17,774.73 450.35,774.83 467.60,774.50 C484.85,774.17 506.47,773.45 519.40,772.50 C532.33,771.55 536.58,769.83 545.20,768.80 C553.82,767.77 562.47,766.72 571.10,766.30 C579.73,765.88 588.37,766.73 597.00,766.30 C605.63,765.87 614.28,764.70 622.90,763.70 C631.52,762.70 640.08,761.43 648.70,760.30 C657.32,759.17 665.97,757.88 674.60,756.90 C683.23,755.92 691.87,755.08 700.50,754.40 C709.13,753.72 717.78,752.90 726.40,752.80 C735.02,752.70 743.27,753.42 752.20,753.80 C761.13,754.18 768.90,755.10 780.00,755.10 C791.10,755.10 805.87,754.65 818.80,753.80 C831.73,752.95 843.37,750.98 857.60,750.00 C871.83,749.02 891.27,747.78 904.20,747.90 C917.13,748.02 925.72,749.50 935.20,750.70 C944.68,751.90 951.60,753.50 961.10,755.10 C970.60,756.70 982.72,758.35 992.20,760.30 C1001.68,762.25 1008.08,764.95 1018.00,766.80 C1027.92,768.65 1041.78,770.33 1051.70,771.40 C1061.62,772.47 1068.88,772.68 1077.50,773.20 C1086.12,773.72 1092.62,773.93 1103.40,774.50 C1114.18,775.07 1130.78,776.08 1142.20,776.60 C1153.62,777.12 1162.65,777.52 1171.90,777.60 C1181.15,777.68 1188.22,777.40 1197.70,777.10 C1207.18,776.80 1219.30,776.32 1228.80,775.80 C1238.30,775.28 1250.38,774.30 1254.70,774.00" fill="none" stroke="#ff6d00" stroke-width="1.2" stroke-linejoin="round"/>
<path d="M10.30,782.70 C17.20,783.63 40.92,787.45 51.70,788.30 C62.48,789.15 68.52,788.18 75.00,787.80 C81.48,787.42 83.70,786.63 90.60,786.00 C97.50,785.37 108.65,785.00 116.40,784.00 C124.15,783.00 131.05,780.87 137.10,780.00 C143.15,779.13 145.37,778.67 152.70,778.80 C160.03,778.93 172.05,780.80 181.10,780.80 C190.15,780.80 198.37,779.57 207.00,778.80 C215.63,778.03 224.28,777.07 232.90,776.20 C241.52,775.33 250.08,774.25 258.70,773.60 C267.32,772.95 275.97,772.30 284.60,772.30 C293.23,772.30 304.47,773.60 310.50,773.60 C316.53,773.60 316.48,772.00 320.80,772.30 C325.12,772.60 329.50,774.97 336.40,775.40 C343.30,775.83 354.45,775.50 362.20,774.90 C369.95,774.30 376.60,772.02 382.90,771.80 C389.20,771.58 394.50,773.15 400.00,773.60 C405.50,774.05 406.78,774.35 415.90,774.50 C425.02,774.65 441.77,774.58 454.70,774.50 C467.63,774.42 482.72,774.52 493.50,774.00 C504.28,773.48 511.63,772.82 519.40,771.40 C527.17,769.98 534.07,766.83 540.10,765.50 C546.13,764.17 550.43,763.62 555.60,763.40 C560.77,763.18 565.07,763.63 571.10,764.20 C577.13,764.77 585.33,767.15 591.80,766.80 C598.27,766.45 603.87,763.18 609.90,762.10 C615.93,761.02 621.53,761.17 628.00,760.30 C634.47,759.43 641.80,757.77 648.70,756.90 C655.60,756.03 662.07,755.95 669.40,755.10 C676.73,754.25 684.50,752.53 692.70,751.80 C700.90,751.07 709.97,750.23 718.60,750.70 C727.23,751.17 737.60,753.73 744.50,754.60 C751.40,755.47 754.40,755.30 760.00,755.90 C765.60,756.50 773.10,758.12 778.10,758.20 C783.10,758.28 785.37,757.13 790.00,756.40 C794.63,755.67 798.95,754.78 805.90,753.80 C812.85,752.82 823.08,751.57 831.70,750.50 C840.32,749.43 848.97,748.13 857.60,747.40 C866.23,746.67 876.17,746.10 883.50,746.10 C890.83,746.10 895.57,746.53 901.60,747.40 C907.63,748.27 914.10,750.10 919.70,751.30 C925.30,752.50 928.30,753.23 935.20,754.60 C942.10,755.97 952.47,757.90 961.10,759.50 C969.73,761.10 980.10,762.65 987.00,764.20 C993.90,765.75 997.33,767.30 1002.50,768.80 C1007.67,770.30 1011.97,772.15 1018.00,773.20 C1024.03,774.25 1030.93,774.67 1038.70,775.10 C1046.47,775.53 1055.97,775.90 1064.60,775.80 C1073.23,775.70 1084.03,774.67 1090.50,774.50 C1096.97,774.33 1097.80,774.23 1103.40,774.80 C1109.00,775.37 1117.00,777.43 1124.10,777.90 C1131.20,778.37 1137.18,777.43 1146.00,777.60 C1154.82,777.77 1168.38,778.98 1177.00,778.90 C1185.62,778.82 1189.93,777.73 1197.70,777.10 C1205.47,776.47 1214.10,776.05 1223.60,775.10 C1233.10,774.15 1249.52,772.02 1254.70,771.40" fill="none" stroke="#2962ff" stroke-width="1.2" stroke-linejoin="round"/>
</g>
<text id="tx20" transform="translate(18,760) scale(0.9247,1)" x="0" y="0" font-size="11" fill="#50535e" font-weight="normal" text-anchor="start">MACD</text>
<text id="tx21" transform="translate(55.5,760) scale(1.0562,1)" x="0" y="0" font-size="11" fill="#a6dcd7" font-weight="normal" text-anchor="start">0.00105</text>
<text id="tx22" transform="translate(104.8,760) scale(1.0393,1)" x="0" y="0" font-size="11" fill="#2962ff" font-weight="normal" text-anchor="start">−0.00143</text>
<text id="tx23" transform="translate(161,760) scale(1.0176,1)" x="0" y="0" font-size="11" fill="#ff6d00" font-weight="normal" text-anchor="start">−0.00248</text>
<rect x="9.95" y="26.95" width="1525.95" height="795" fill="none" stroke="#e8e9f0" stroke-width="1.8"/>
<line x1="10" y1="642.5" x2="1536" y2="642.5" stroke="#e0e3eb" stroke-width="1.5"/>
<line x1="10" y1="740.5" x2="1536" y2="740.5" stroke="#e0e3eb" stroke-width="1.5"/>
<line x1="10" y1="794.5" x2="1470.5" y2="794.5" stroke="#434651" stroke-width="1.2"/>
<line x1="1470.5" y1="27" x2="1470.5" y2="821" stroke="#434651" stroke-width="1.2"/>
<rect x="1474.5" y="31.5" width="57" height="25" rx="4" fill="#fff" stroke="#e0e3eb"/>
<text id="tx24" transform="translate(1482,48.5) scale(0.8181,1)" x="0" y="0" font-size="12" fill="#2a2e39" font-weight="normal" text-anchor="start">USD</text>
<text id="tx25" transform="translate(1478.3,117.85) scale(0.8674,1)" x="0" y="0" font-size="12" fill="#50535e" font-weight="normal" text-anchor="start">5.00%</text>
<text id="tx26" transform="translate(1478.3,172.44) scale(0.8674,1)" x="0" y="0" font-size="12" fill="#50535e" font-weight="normal" text-anchor="start">4.00%</text>
<text id="tx27" transform="translate(1478.3,227.03) scale(0.8674,1)" x="0" y="0" font-size="12" fill="#50535e" font-weight="normal" text-anchor="start">3.00%</text>
<text id="tx28" transform="translate(1478.3,281.62) scale(0.8674,1)" x="0" y="0" font-size="12" fill="#50535e" font-weight="normal" text-anchor="start">2.00%</text>
<text id="tx29" transform="translate(1478.3,390.8) scale(0.8674,1)" x="0" y="0" font-size="12" fill="#50535e" font-weight="normal" text-anchor="start">0.00%</text>
<text id="tx30" transform="translate(1478.3,445.39) scale(0.8703,1)" x="0" y="0" font-size="12" fill="#50535e" font-weight="normal" text-anchor="start">−1.00%</text>
<text id="tx31" transform="translate(1478.3,499.98) scale(0.8703,1)" x="0" y="0" font-size="12" fill="#50535e" font-weight="normal" text-anchor="start">−2.00%</text>
<text id="tx32" transform="translate(1478.3,554.57) scale(0.8703,1)" x="0" y="0" font-size="12" fill="#50535e" font-weight="normal" text-anchor="start">−3.00%</text>
<text id="tx33" transform="translate(1478.3,609.16) scale(0.8703,1)" x="0" y="0" font-size="12" fill="#50535e" font-weight="normal" text-anchor="start">−4.00%</text>
<rect x="1470.5" y="61" width="43" height="12.5" fill="#000" rx="1.5"/>
<text id="tx34" transform="translate(1493.3,70) scale(0.9353,1)" x="0" y="0" font-size="11.5" fill="#fff" font-weight="bold" text-anchor="middle">5.89%</text>
<rect x="1470.5" y="241.5" width="43" height="15.899999999999977" fill="#f23645" rx="1.5"/>
<text id="tx35" transform="translate(1492.0,253.64999999999998) scale(0.9200,1)" x="0" y="0" font-size="11.5" fill="#fff" font-weight="bold" text-anchor="middle">2.52%</text>
<rect x="1470.5" y="283.2" width="43" height="16.19999999999999" fill="#2d2df5" rx="1.5"/>
<text id="tx36" transform="translate(1492.0,295.49999999999994) scale(0.9200,1)" x="0" y="0" font-size="11.5" fill="#fff" font-weight="bold" text-anchor="middle">1.73%</text>
<rect x="1470.5" y="300.4" width="43" height="33.1" fill="#000" rx="1.5"/>
<text id="tx37" transform="translate(1492,313) scale(0.9551,1)" x="0" y="0" font-size="11" fill="#fff" font-weight="bold" text-anchor="middle">0.99%</text>
<text id="tx38" transform="translate(1492,330) scale(0.9551,1)" x="0" y="0" font-size="11" fill="#fff" font-weight="bold" text-anchor="middle">0.94%</text>
<rect x="1470.5" y="334.5" width="43" height="15.899999999999977" fill="#f23645" rx="1.5"/>
<text id="tx39" transform="translate(1492.0,346.65) scale(0.9200,1)" x="0" y="0" font-size="11.5" fill="#fff" font-weight="bold" text-anchor="middle">0.70%</text>
<rect x="1470.5" y="351.4" width="59" height="30.3" fill="#ef5350" rx="2"/>
<text id="tx40" transform="translate(1478,364) scale(0.9515,1)" x="0" y="0" font-size="11" fill="#fff" font-weight="bold" text-anchor="start">+0.49%</text>
<text id="tx41" transform="translate(1478,377.5) scale(1.1208,1)" x="0" y="0" font-size="11" fill="#fde0e0" font-weight="normal" text-anchor="start">13:19:26</text>
<rect x="1470.5" y="426.2" width="49" height="16.19999999999999" fill="#000" rx="1.5"/>
<text id="tx42" transform="translate(1496.7,438.49999999999994) scale(0.9281,1)" x="0" y="0" font-size="11.5" fill="#fff" font-weight="bold" text-anchor="middle">−0.87%</text>
<rect x="1470.5" y="504.5" width="49" height="16.200000000000045" fill="#000" rx="1.5"/>
<text id="tx43" transform="translate(1496.7,516.8000000000001) scale(0.9281,1)" x="0" y="0" font-size="11.5" fill="#fff" font-weight="bold" text-anchor="middle">−2.30%</text>
<rect x="1470.5" y="582.8" width="49" height="15.700000000000045" fill="#000" rx="1.5"/>
<text id="tx44" transform="translate(1496.7,594.85) scale(0.9281,1)" x="0" y="0" font-size="11.5" fill="#fff" font-weight="bold" text-anchor="middle">−3.73%</text>
<rect x="1418.3" y="283.2" width="50.6" height="16.2" fill="#2d2df5" rx="2"/>
<text id="tx45" transform="translate(1443.6,295.5) scale(0.9278,1)" x="0" y="0" font-size="11" fill="#fff" font-weight="bold" text-anchor="middle">SMA:MA</text>
<rect x="1418.3" y="334.5" width="50.6" height="15.9" fill="#f23645" rx="2"/>
<text id="tx46" transform="translate(1443.6,346.5) scale(0.9278,1)" x="0" y="0" font-size="11" fill="#fff" font-weight="bold" text-anchor="middle">SMA:MA</text>
<rect x="1416.3" y="351.4" width="52.6" height="15.8" fill="#ef5350" rx="2"/>
<text id="tx47" transform="translate(1442.6,363.5) scale(0.9127,1)" x="0" y="0" font-size="11" fill="#fff" font-weight="bold" text-anchor="middle">AUDUSD</text>
<text id="tx48" transform="translate(1478,678.5) scale(1.0896,1)" x="0" y="0" font-size="11" fill="#50535e" font-weight="normal" text-anchor="start">60.00</text>
<rect x="1443" y="687.1" width="25.9" height="16.3" fill="#7e57c2" rx="2"/>
<text id="tx49" transform="translate(1456,699.5) scale(0.8178,1)" x="0" y="0" font-size="11" fill="#fff" font-weight="bold" text-anchor="middle">RSI</text>
<rect x="1470.5" y="687.1" width="42.4" height="16.3" fill="#7e57c2" rx="2"/>
<text id="tx50" transform="translate(1491.7,699.5) scale(1.0896,1)" x="0" y="0" font-size="11" fill="#fff" font-weight="bold" text-anchor="middle">48.58</text>
<rect x="1377" y="704.2" width="92" height="16.5" fill="#fff" rx="0"/>
<text id="tx51" transform="translate(1381.5,716) scale(1.0396,1)" x="0" y="0" font-size="11" fill="#131722" font-weight="normal" text-anchor="start">Regular Bearish</text>
<text id="tx52" transform="translate(1478,716) scale(1.0896,1)" x="0" y="0" font-size="11" fill="#131722" font-weight="normal" text-anchor="start">45.65</text>
<rect x="1389.2" y="721.2" width="79.7" height="16.6" fill="#fce83b" rx="2"/>
<text id="tx53" transform="translate(1393,734) scale(0.9974,1)" x="0" y="0" font-size="11" fill="#131722" font-weight="normal" text-anchor="start">RSI-based MA</text>
<rect x="1470.5" y="721.2" width="42.4" height="16.6" fill="#fce83b" rx="2"/>
<text id="tx54" transform="translate(1478,734) scale(1.0896,1)" x="0" y="0" font-size="11" fill="#131722" font-weight="normal" text-anchor="start">43.71</text>
<rect x="1405.5" y="757.2" width="63.5" height="16" fill="#b2dfdb" rx="2"/>
<text id="tx55" transform="translate(1410,769.5) scale(1.0773,1)" x="0" y="0" font-size="11" fill="#131722" font-weight="normal" text-anchor="start">Histogram</text>
<rect x="1470.5" y="757.2" width="55.3" height="16" fill="#b2dfdb" rx="2"/>
<text id="tx56" transform="translate(1478,769.5) scale(1.0562,1)" x="0" y="0" font-size="11" fill="#131722" font-weight="normal" text-anchor="start">0.00105</text>
<rect x="1429.3" y="773.8" width="39.6" height="16.2" fill="#2962ff" rx="2"/>
<text id="tx57" transform="translate(1449,786) scale(0.9077,1)" x="0" y="0" font-size="11" fill="#fff" font-weight="bold" text-anchor="middle">MACD</text>
<rect x="1470.5" y="773.8" width="61.5" height="16.2" fill="#2962ff" rx="2"/>
<text id="tx58" transform="translate(1501,786) scale(1.0826,1)" x="0" y="0" font-size="11" fill="#fff" font-weight="bold" text-anchor="middle">−0.00143</text>
<rect x="1429.3" y="790.5" width="102.7" height="3.5" fill="#ff6d00" rx="0"/>
<text x="29.8" y="812" font-size="11.5" fill="#50535e" font-weight="normal" text-anchor="middle">15</text>
<text x="144.4" y="812" font-size="11.5" fill="#50535e" font-weight="normal" text-anchor="middle">Sep</text>
<text x="241.4" y="812" font-size="11.5" fill="#50535e" font-weight="normal" text-anchor="middle">18</text>
<text x="329.5" y="812" font-size="11.5" fill="#50535e" font-weight="normal" text-anchor="middle">Oct</text>
<text x="417.7" y="812" font-size="11.5" fill="#50535e" font-weight="normal" text-anchor="middle">16</text>
<text x="523.5" y="812" font-size="11.5" fill="#50535e" font-weight="normal" text-anchor="middle">Nov</text>
<text x="611.6" y="812" font-size="11.5" fill="#50535e" font-weight="normal" text-anchor="middle">15</text>
<text x="717.4" y="812" font-size="11.5" fill="#50535e" font-weight="normal" text-anchor="middle">Dec</text>
<text x="814.4" y="812" font-size="11.5" fill="#50535e" font-weight="normal" text-anchor="middle">18</text>
<text x="902.6" y="812" font-size="11.5" fill="#2a2e39" font-weight="bold" text-anchor="middle">2024</text>
<text x="990.7" y="812" font-size="11.5" fill="#50535e" font-weight="normal" text-anchor="middle">15</text>
<text x="1105.3" y="812" font-size="11.5" fill="#50535e" font-weight="normal" text-anchor="middle">Feb</text>
<text x="1193.5" y="812" font-size="11.5" fill="#50535e" font-weight="normal" text-anchor="middle">15</text>
<text x="1290.5" y="812" font-size="11.5" fill="#50535e" font-weight="normal" text-anchor="middle">Mar</text>
<text x="1387.4" y="812" font-size="11.5" fill="#50535e" font-weight="normal" text-anchor="middle">18</text>
<path d="M10 834.1h7.8v9.5h-3.9v-5.6h-3.9z" fill="#131722"/>
<circle cx="21.2" cy="836" r="2" fill="#131722"/>
<path d="M25.3 834.1h4.3l-4 9.5h-4.4z" fill="#131722"/>
<text id="tx59" transform="translate(33,844) scale(1.0034,1)" x="0" y="0" font-size="12.5" fill="#131722" font-weight="normal" text-anchor="start">TradingView</text>
<defs><filter id="ws" x="-10%" y="-10%" width="120%" height="130%"><feDropShadow dx="-1.8" dy="1.8" stdDeviation="0.9" flood-color="#444" flood-opacity="0.9"/></filter><filter id="ws2" x="-10%" y="-10%" width="120%" height="130%"><feDropShadow dx="-1.2" dy="1.2" stdDeviation="0.4" flood-color="#7a9a8a" flood-opacity="0.8"/></filter></defs>
<g filter="url(#ws)" opacity="0.8" fill="none" stroke="#fff" stroke-width="6.5" stroke-linejoin="round">
<path d="M1322.5,765 L1321,772"/>
<path d="M1328,773 L1360,773 L1362,766"/>
<path d="M1312,779 L1323,779"/>
<path d="M1318,781 L1317,790"/>
<path d="M1298,818 L1316,798"/>
<path d="M1333,780 L1325,810"/>
<path d="M1332,780 L1354,780"/>
<path d="M1359.5,774 L1351,818"/>
<path d="M1300,818 L1353,818"/>
<path d="M1323,798 L1356,798"/>
<path d="M1345,784 L1348,790"/>
<path d="M1340,802 L1342,809"/>
<path d="M1374,771.5 L1409,771.5 L1407,784"/>
<path d="M1379.5,772 L1376,784"/>
<path d="M1376,784 L1407,784"/>
<path d="M1419,766 L1406,814 L1401,818.5 L1389,818.5"/>
<path d="M1363,808 L1401,808 L1403,802"/>
<path d="M1435.5,775 L1426,816"/>
<path d="M1435.5,774 L1455.5,774"/>
<path d="M1455.5,772 L1446,810"/>
<path d="M1431,792 L1451,792"/>
<path d="M1429,812 L1422,819"/>
<path d="M1446,810 L1452,819"/>
<path d="M1456,784.5 L1475,784.5"/>
<path d="M1470.5,768 L1462,816 L1457,819"/>
<path d="M1467,790 L1454,812"/>
<path d="M1491,770 L1482,785 L1495,785 L1480,803"/>
<path d="M1481,812 L1496,806"/>
<path d="M1497,771.5 L1545,771.5"/>
<path d="M1544,766 L1522,790"/>
<path d="M1506,778 L1538,794"/>
<path d="M1489,798 L1535,798"/>
<path d="M1513,798 L1509,816"/>
<path d="M1480,816.5 L1533,816.5"/>
</g>
<text x="1314" y="850.5" font-size="30" font-weight="bold" font-style="italic" fill="#93adf7" stroke="#93adf7" stroke-width="1.2" filter="url(#ws2)" textLength="220" lengthAdjust="spacing">zzrt01.cn</text>
</svg></body></html>
